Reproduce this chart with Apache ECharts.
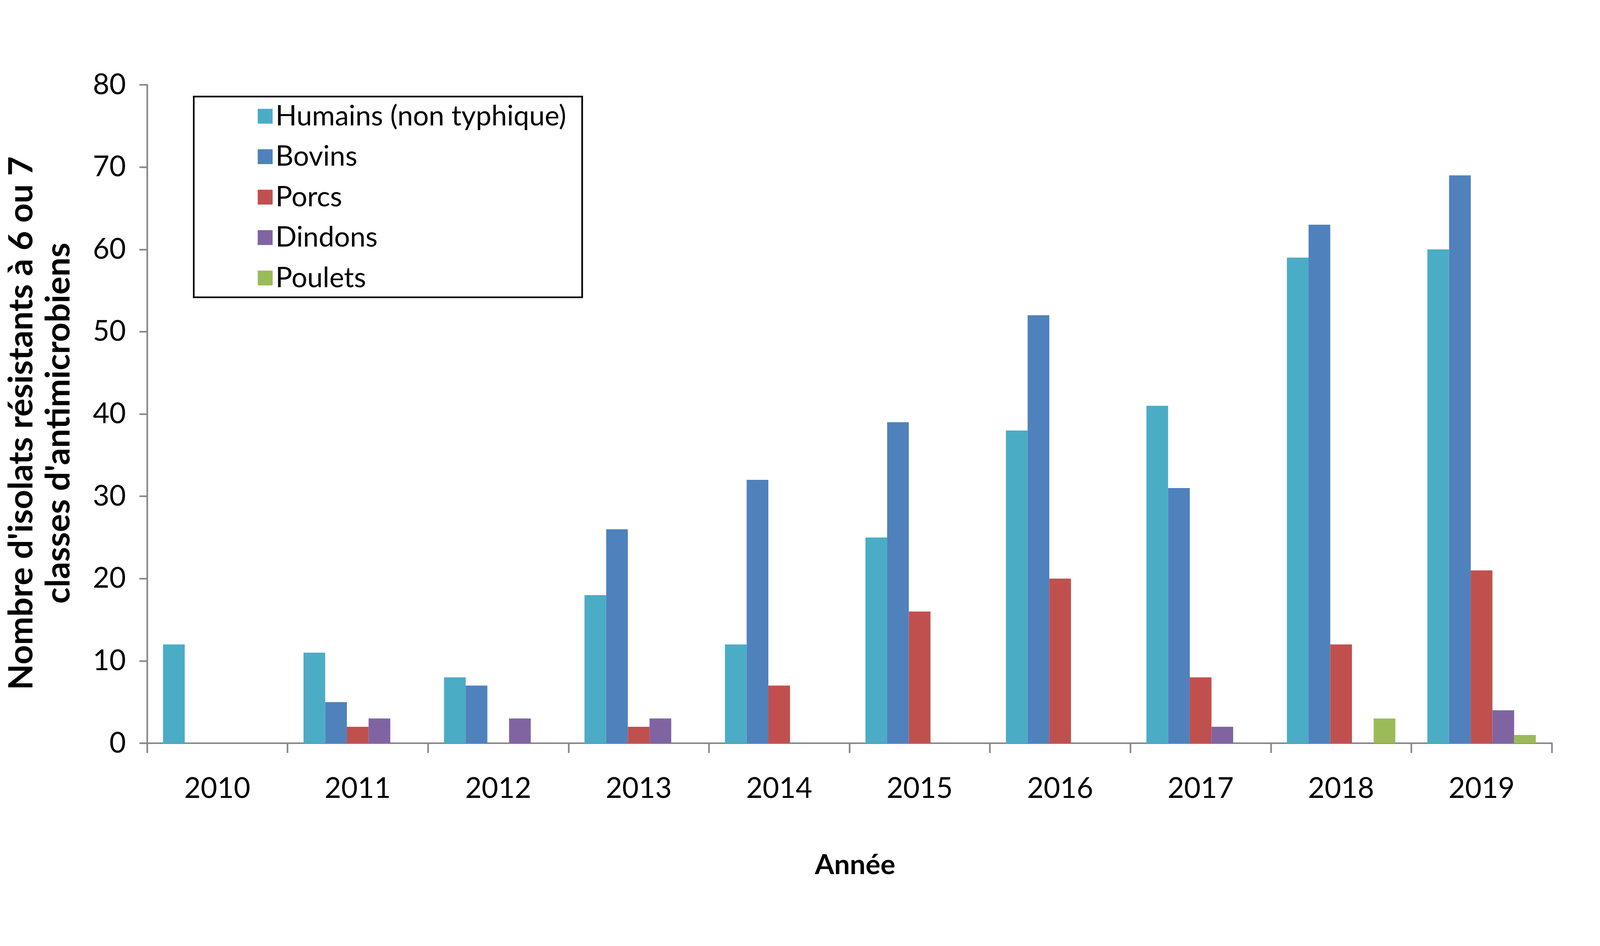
<!DOCTYPE html>
<html>
<head>
<meta charset="utf-8">
<script src="https://cdn.jsdelivr.net/npm/echarts@6/dist/echarts.min.js"></script>
<style>
html, body { margin: 0; padding: 0; background: #ffffff; overflow: hidden; }
#chart { width: 100vw; height: 100vh; }
</style>
</head>
<body>
<div id="chart"></div>
<script>
const categories = ['2010', '2011', '2012', '2013', '2014', '2015', '2016', '2017', '2018', '2019'];
const seriesNames = ['Humains (non typhique)', 'Bovins', 'Porcs', 'Dindons', 'Poulets'];
const humains = [12, 11, 8, 18, 12, 25, 38, 41, 59, 60];
const bovins  = [0, 5, 7, 26, 32, 39, 52, 31, 63, 69];
const porcs   = [0, 2, 0, 2, 7, 16, 20, 8, 12, 21];
const dindons = [0, 3, 3, 3, 0, 0, 0, 2, 0, 4];
const poulets = [0, 0, 0, 0, 0, 0, 0, 0, 3, 1];
const yTicks = { min: 0, max: 80, interval: 10 };
const xTitle = 'Année';
const yTitleLine1 = "Nombre d'isolats résistants à 6 ou 7";
const yTitleLine2 = "classes d'antimicrobiens";

const colors = ['#4BACC6', '#4F81BD', '#C0504D', '#8064A2', '#9BBB59'];
const values = [humains, bovins, porcs, dindons, poulets];
const axisGray = '#898989';
const FONT = 'Lato, "Noto Sans", sans-serif';

// Layout designed for a 5681 x 2421 frame, mapped onto the actual viewport.
const el = document.getElementById('chart');
const W = el.clientWidth || window.innerWidth;
const H = el.clientHeight || window.innerHeight;
const sx = W / 5681;
const sy = H / 2421;
const f = Math.sqrt(sx * sy);
const X = v => v * sx;
const Y = v => v * sy;
const F = v => v * f;

const legendFont = F(84);
const tickFont = F(86);
const xNameFont = F(84);
const yNameFont = F(100) * 1.02;
const MID = 0.3225; // middle-anchor offset above baseline (em)
const yLine1Base = Math.min(X(122), X(181) - 0.55 * yNameFont);
const yLine2Base = Math.max(X(240), X(181) + 0.55 * yNameFont);

const chart = echarts.init(el, null, { renderer: 'canvas' });

const option = {
  backgroundColor: '#ffffff',
  animation: false,
  color: colors,
  grid: { left: X(522), right: X(171), top: Y(217), bottom: Y(519), containLabel: false },
  legend: {
    orient: 'vertical',
    left: X(915),
    top: Y(297.5) - legendFont / 2,
    itemWidth: F(45),
    itemHeight: F(45),
    itemGap: Y(103.5) - legendFont,
    icon: 'rect',
    padding: 0,
    borderWidth: 0,
    textStyle: {
      fontFamily: FONT, fontSize: legendFont, color: '#000000', lineHeight: legendFont,
      padding: [0, 0, 0, Math.max(2, X(987) - (X(915) + F(45) + 5) - 0.09 * legendFont)]
    },
    data: seriesNames
  },
  xAxis: {
    type: 'category',
    data: categories,
    boundaryGap: true,
    name: xTitle,
    nameLocation: 'middle',
    nameGap: Y(2237) - Y(1902) - (0.5 + MID) * xNameFont,
    nameTextStyle: {
      fontFamily: FONT, fontSize: xNameFont, fontWeight: 'bold', color: '#000000', lineHeight: xNameFont,
      padding: [0, 0, 0, X(40)]
    },
    axisLine: { show: true, lineStyle: { color: axisGray, width: F(5) } },
    axisTick: { show: true, length: Y(25), lineStyle: { color: axisGray, width: F(5) } },
    axisLabel: {
      fontFamily: FONT, fontSize: tickFont, color: '#000000', lineHeight: tickFont,
      margin: Y(2042) - Y(1902) - (0.5 + MID) * tickFont
    },
    splitLine: { show: false }
  },
  yAxis: {
    type: 'value',
    min: yTicks.min,
    max: yTicks.max,
    interval: yTicks.interval,
    axisLine: { show: true, lineStyle: { color: axisGray, width: F(5) } },
    axisTick: { show: true, length: X(27), lineStyle: { color: axisGray, width: F(5) } },
    axisLabel: { fontFamily: FONT, fontSize: tickFont, color: '#000000', margin: X(79) - 3 },
    splitLine: { show: false }
  },
  graphic: [
    {
      type: 'text',
      x: yLine1Base - MID * yNameFont,
      y: Y(1083),
      rotation: Math.PI / 2,
      style: {
        text: yTitleLine1, x: 0, y: 0, fill: '#000000',
        font: 'bold ' + yNameFont + 'px Lato, "Noto Sans", sans-serif',
        align: 'center', verticalAlign: 'middle'
      }
    },
    {
      type: 'text',
      x: yLine2Base - MID * yNameFont,
      y: Y(1083),
      rotation: Math.PI / 2,
      style: {
        text: yTitleLine2, x: 0, y: 0, fill: '#000000',
        font: 'bold ' + yNameFont + 'px Lato, "Noto Sans", sans-serif',
        align: 'center', verticalAlign: 'middle'
      }
    },
    {
      type: 'rect',
      shape: { x: X(685) + F(2.5), y: Y(245) + F(2.5), width: X(1385) - F(5), height: Y(518) - F(5) },
      style: { fill: 'none', stroke: '#000000', lineWidth: F(5) },
      z: 0
    }
  ],
  series: seriesNames.map((name, i) => ({
    name: name,
    type: 'bar',
    data: values[i],
    barGap: '0%',
    barCategoryGap: '22.8%',
    itemStyle: { color: colors[i] }
  }))
};

chart.setOption(option);
window.addEventListener('resize', () => chart.resize());
</script>
</body>
</html>
